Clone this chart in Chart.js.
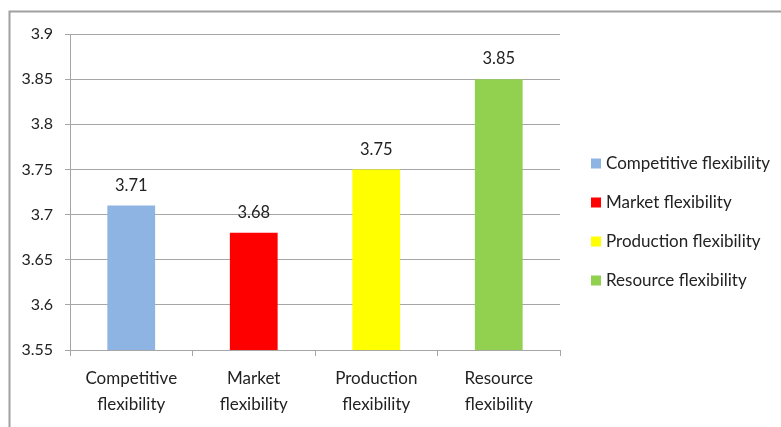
<!DOCTYPE html>
<html>
<head>
<meta charset="utf-8">
<script src="https://cdn.jsdelivr.net/npm/chart.js@4/dist/chart.umd.min.js"></script>
<style>
  html, body { margin: 0; padding: 0; background: #fff; }
  #wrap { width: 781px; height: 427px; position: relative; }
</style>
</head>
<body>
<div id="wrap"><canvas id="c" width="781" height="427"></canvas></div>
<script>
// Mean scores per flexibility dimension
const categories = ["Competitive flexibility", "Market flexibility", "Production flexibility", "Resource flexibility"];
const scores = [3.71, 3.68, 3.75, 3.85];
const barColors = ["#8EB4E3", "#FF0000", "#FFFF00", "#92D050"];
const yTicks = [3.55, 3.6, 3.65, 3.7, 3.75, 3.8, 3.85, 3.9];

const FONT = "Lato, 'Open Sans', sans-serif";
const TEXT = "#222222";
const GRID = "#A6A6A6";

// Outer frame around the chart
const framePlugin = {
  id: 'frame',
  beforeDraw(chart) {
    const ctx = chart.ctx;
    ctx.save();
    ctx.fillStyle = '#fff';
    ctx.fillRect(0, 0, chart.width, chart.height);
    ctx.strokeStyle = '#A0A0A0';
    ctx.lineWidth = 2;
    ctx.strokeRect(9.5, 11.5, 900, 600);
    ctx.restore();
  }
};

// Value labels above each bar
const valueLabels = {
  id: 'valueLabels',
  afterDatasetsDraw(chart) {
    const ctx = chart.ctx;
    const meta = chart.getDatasetMeta(0);
    ctx.save();
    ctx.font = "16.5px " + FONT;
    ctx.fillStyle = TEXT;
    ctx.textAlign = 'center';
    ctx.textBaseline = 'middle';
    meta.data.forEach((bar, i) => {
      ctx.fillText(chart.data.datasets[0].data[i].toFixed(2), bar.x, bar.y - 20);
    });
    ctx.restore();
  }
};

// Legend on the right, one entry per category
const sideLegend = {
  id: 'sideLegend',
  afterDraw(chart) {
    const ctx = chart.ctx;
    const ds = chart.data.datasets[0];
    ctx.save();
    ctx.font = "17px " + FONT;
    ctx.textBaseline = 'middle';
    ctx.textAlign = 'left';
    chart.data.labels.forEach((lab, i) => {
      const y = 162.5 + i * 39;
      ctx.fillStyle = ds.backgroundColor[i];
      ctx.fillRect(591, y - 4, 10, 10);
      ctx.fillStyle = TEXT;
      ctx.fillText(lab, 606, y + 1);
    });
    ctx.restore();
  }
};

new Chart(document.getElementById('c'), {
  type: 'bar',
  data: {
    labels: categories,
    datasets: [{
      data: scores,
      backgroundColor: barColors,
      barPercentage: 0.78,
      categoryPercentage: 0.5
    }]
  },
  options: {
    responsive: false,
    animation: false,
    events: [],
    layout: { padding: { top: 34, right: 221, left: 0, bottom: 0 } },
    plugins: { legend: { display: false }, tooltip: { enabled: false } },
    scales: {
      x: {
        offset: true,
        afterFit(scale) { scale.height = 77; },
        grid: { display: true, offset: true, drawOnChartArea: false, drawTicks: true, tickLength: 6, color: GRID },
        border: { display: true, color: GRID, width: 1 },
        ticks: {
          color: TEXT,
          padding: 10,
          font: { family: FONT, size: 17, lineHeight: 1.5 },
          maxRotation: 0,
          callback(v, i) { return categories[i].split(' '); }
        }
      },
      y: {
        min: 3.55,
        max: 3.9,
        afterFit(scale) { scale.width = 70; },
        afterBuildTicks(scale) { scale.ticks = yTicks.map(v => ({ value: v })); },
        grid: { color: GRID, tickLength: 5, drawTicks: true },
        border: { display: true, color: GRID, width: 1 },
        ticks: {
          color: TEXT,
          padding: 12,
          font: { family: FONT, size: 16 },
          callback(v) { return String(+v.toFixed(2)); }
        }
      }
    }
  },
  plugins: [framePlugin, valueLabels, sideLegend]
});
</script>
</body>
</html>
